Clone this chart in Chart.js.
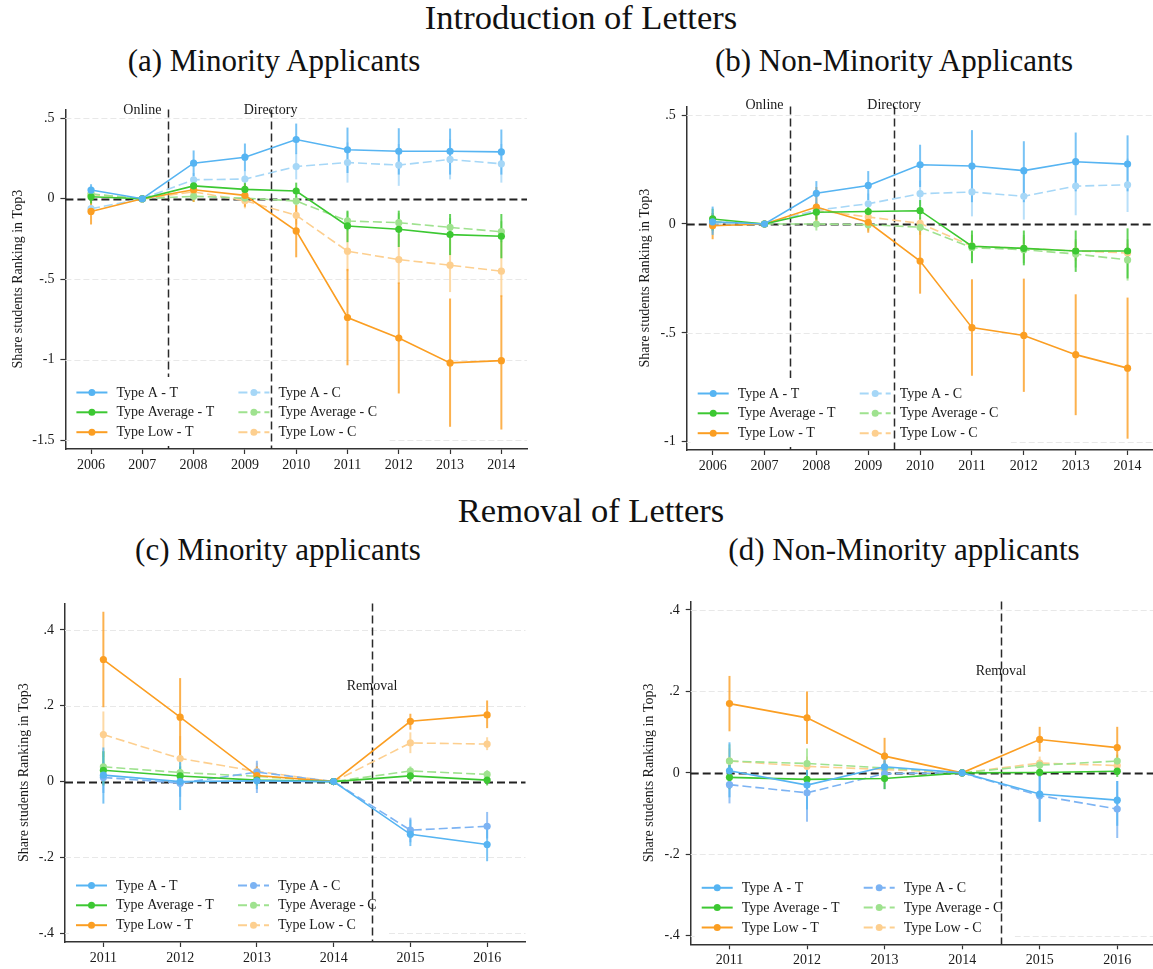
<!DOCTYPE html>
<html><head><meta charset="utf-8">
<script src="https://cdn.jsdelivr.net/npm/chart.js@4.4.0/dist/chart.umd.min.js"></script>
<style>
html,body{margin:0;padding:0;width:1153px;height:969px;overflow:hidden;background:#fff;}
.t{position:absolute;font-family:"Liberation Serif","Times New Roman",serif;color:#111;white-space:nowrap;line-height:1;transform:translateX(-50%);}
canvas{position:absolute;}
</style></head><body>
<div class="t" style="left:581px;top:0px;font-size:34.5px">Introduction of Letters</div>
<div class="t" style="left:274px;top:45px;font-size:31px">(a) Minority Applicants</div>
<div class="t" style="left:894px;top:45px;font-size:31px">(b) Non-Minority Applicants</div>
<div class="t" style="left:591px;top:493px;font-size:34.5px">Removal of Letters</div>
<div class="t" style="left:278px;top:534px;font-size:31px">(c) Minority applicants</div>
<div class="t" style="left:904px;top:534px;font-size:31px">(d) Non-Minority applicants</div>
<canvas id="ca" width="545" height="385" style="left:0px;top:95px"></canvas>
<canvas id="cb" width="560" height="388" style="left:600px;top:92px"></canvas>
<canvas id="cc" width="545" height="380" style="left:0px;top:589px"></canvas>
<canvas id="cd" width="560" height="382" style="left:600px;top:587px"></canvas>
<script>
// ---------- categories & tick labels ----------
const yearsIntro   = [2006, 2007, 2008, 2009, 2010, 2011, 2012, 2013, 2014];
const yearsRemoval = [2011, 2012, 2013, 2014, 2015, 2016];
const yTicksA = [0.5, 0, -0.5, -1, -1.5];
const yTicksB = [0.5, 0, -0.5, -1];
const yTicksCD = [0.4, 0.2, 0, -0.2, -0.4];
const seriesNames = ['Type A - T', 'Type Average - T', 'Type Low - T', 'Type A - C', 'Type Average - C', 'Type Low - C'];
const yTitle = 'Share students Ranking in Top3';

// ---------- panel (a) Minority, introduction ----------
const a_A_T   = [0.054, 0, 0.221, 0.258, 0.368, 0.304, 0.295, 0.295, 0.291];
const a_A_T_ci = [[0.02,0.09],[0,0],[0.14,0.30],[0.17,0.343],[0.277,0.467],[0.16,0.442],[0.15,0.438],[0.15,0.436],[0.15,0.43]];
const a_Av_T  = [0.012, 0, 0.08, 0.058, 0.048, -0.169, -0.19, -0.223, -0.233];
const a_Av_T_ci = [[-0.03,0.05],[0,0],[0.04,0.12],[0.02,0.1],[0.0,0.1],[-0.27,-0.074],[-0.3,-0.074],[-0.35,-0.095],[-0.37,-0.095]];
const a_Lo_T  = [-0.079, 0, 0.056, 0.021, -0.2, -0.738, -0.866, -1.02, -1.006];
const a_Lo_T_ci = [[-0.16,0.0],[0,0],[-0.02,0.13],[-0.05,0.09],[-0.364,-0.04],[-1.035,-0.436],[-1.21,-0.52],[-1.417,-0.62],[-1.434,-0.6]];
const a_A_C   = [-0.062, 0, 0.118, 0.122, 0.2, 0.225, 0.209, 0.244, 0.217];
const a_A_C_ci = [[-0.1,-0.02],[0,0],[0.07,0.16],[0.07,0.17],[0.12,0.28],[0.1,0.35],[0.08,0.34],[0.12,0.37],[0.1,0.34]];
const a_Av_C  = [0.03, 0, 0.015, 0.004, -0.014, -0.138, -0.149, -0.178, -0.205];
const a_Av_C_ci = [[0.0,0.06],[0,0],[-0.02,0.05],[-0.03,0.04],[-0.05,0.02],[-0.2,-0.08],[-0.21,-0.09],[-0.24,-0.12],[-0.27,-0.14]];
const a_Lo_C  = [0.027, 0, 0.043, -0.012, -0.103, -0.326, -0.378, -0.413, -0.45];
const a_Lo_C_ci = [[0.0,0.06],[0,0],[0.0,0.09],[-0.06,0.04],[-0.16,-0.05],[-0.45,-0.2],[-0.53,-0.22],[-0.58,-0.24],[-0.61,-0.26]];

// ---------- panel (b) Non-minority, introduction ----------
const b_A_T   = [0.01, 0, 0.141, 0.177, 0.272, 0.266, 0.245, 0.286, 0.275];
const b_A_T_ci = [[-0.05,0.08],[0,0],[0.08,0.197],[0.11,0.243],[0.17,0.364],[0.1,0.431],[0.1,0.38],[0.15,0.42],[0.15,0.407]];
const b_Av_T  = [0.023, 0, 0.054, 0.057, 0.061, -0.102, -0.112, -0.124, -0.124];
const b_Av_T_ci = [[-0.03,0.07],[0,0],[0.02,0.09],[0.02,0.1],[0.02,0.11],[-0.18,-0.03],[-0.19,-0.03],[-0.22,-0.03],[-0.25,-0.02]];
const b_Lo_T  = [-0.008, 0, 0.078, 0.008, -0.17, -0.476, -0.512, -0.6, -0.662];
const b_Lo_T_ci = [[-0.07,0.05],[0,0],[0.0,0.17],[-0.04,0.05],[-0.32,0.0],[-0.697,-0.254],[-0.771,-0.251],[-0.878,-0.323],[-0.986,-0.338]];
const b_A_C   = [0.0, 0, 0.063, 0.093, 0.139, 0.147, 0.127, 0.174, 0.18];
const b_A_C_ci = [[-0.04,0.04],[0,0],[0.02,0.1],[0.05,0.14],[0.08,0.2],[0.035,0.26],[0.02,0.24],[0.04,0.3],[0.055,0.3]];
const b_Av_C  = [0.01, 0, 0.0, -0.003, -0.015, -0.109, -0.118, -0.138, -0.165];
const b_Av_C_ci = [[-0.03,0.05],[0,0],[-0.03,0.03],[-0.03,0.02],[-0.05,0.02],[-0.17,-0.05],[-0.18,-0.05],[-0.2,-0.07],[-0.26,-0.07]];
const b_Lo_C  = [0.01, 0, 0.063, 0.032, 0.003, -0.102, -0.112, -0.124, -0.133];
const b_Lo_C_ci = [[-0.02,0.04],[0,0],[0.03,0.1],[0.0,0.06],[-0.03,0.03],[-0.15,-0.05],[-0.16,-0.06],[-0.17,-0.08],[-0.18,-0.09]];

// ---------- panel (c) Minority, removal ----------
const c_A_T   = [0.017, 0.0, 0.002, 0, -0.139, -0.166];
const c_A_T_ci = [[-0.058,0.09],[-0.075,0.07],[-0.02,0.03],[0,0],[-0.17,-0.1],[-0.21,-0.12]];
const c_Av_T  = [0.03, 0.015, 0.004, 0, 0.015, 0.004];
const c_Av_T_ci = [[-0.01,0.08],[-0.01,0.04],[-0.01,0.02],[0,0],[0.0,0.03],[-0.01,0.02]];
const c_Lo_T  = [0.322, 0.17, 0.016, 0, 0.159, 0.176];
const c_Lo_T_ci = [[0.196,0.448],[0.065,0.273],[-0.01,0.04],[0,0],[0.137,0.179],[0.141,0.214]];
const c_A_C   = [0.011, -0.004, 0.025, 0, -0.128, -0.118];
const c_A_C_ci = [[-0.03,0.05],[-0.04,0.03],[-0.03,0.055],[0,0],[-0.16,-0.095],[-0.15,-0.08]];
const c_Av_C  = [0.039, 0.024, 0.014, 0, 0.028, 0.019];
const c_Av_C_ci = [[0.0,0.08],[0.0,0.05],[0.0,0.03],[0,0],[0.015,0.04],[0.005,0.03]];
const c_Lo_C  = [0.124, 0.061, 0.027, 0, 0.102, 0.099];
const c_Lo_C_ci = [[0.065,0.185],[0.0,0.12],[0.0,0.05],[0,0],[0.075,0.13],[0.083,0.117]];

// ---------- panel (d) Non-minority, removal ----------
const d_A_T   = [0.005, -0.03, 0.015, 0, -0.052, -0.067];
const d_A_T_ci = [[-0.06,0.075],[-0.09,0.03],[-0.02,0.05],[0,0],[-0.12,0.0],[-0.13,-0.02]];
const d_Av_T  = [-0.011, -0.016, -0.014, 0, 0.001, 0.004];
const d_Av_T_ci = [[-0.04,0.02],[-0.04,0.01],[-0.04,0.01],[0,0],[-0.01,0.01],[-0.01,0.02]];
const d_Lo_T  = [0.17, 0.135, 0.041, 0, 0.082, 0.062];
const d_Lo_T_ci = [[0.102,0.238],[0.071,0.2],[0.0,0.086],[0,0],[0.052,0.113],[0.01,0.113]];
const d_A_C   = [-0.029, -0.049, -0.002, 0, -0.056, -0.089];
const d_A_C_ci = [[-0.075,0.02],[-0.12,0.02],[-0.04,0.03],[0,0],[-0.12,0.01],[-0.16,-0.02]];
const d_Av_C  = [0.029, 0.023, 0.012, 0, 0.019, 0.029];
const d_Av_C_ci = [[-0.01,0.07],[-0.01,0.06],[-0.01,0.03],[0,0],[0.005,0.03],[0.01,0.045]];
const d_Lo_C  = [0.029, 0.016, 0.008, 0, 0.024, 0.018];
const d_Lo_C_ci = [[0.0,0.06],[-0.01,0.04],[-0.01,0.025],[0,0],[0.01,0.04],[0.005,0.03]];

// ---------- styling ----------
const FONT = '"Liberation Serif","Times New Roman",serif';
const COL = {
  A_T: '#56b4f2', A_C_intro: '#a6d7f7', A_C_rem: '#7cb3f3',
  Av_T: '#3cc832', Av_C: '#9fe28f',
  Lo_T: '#fb9e22', Lo_C: '#fdcf8f'
};
function rgba(hex, a) {
  const n = parseInt(hex.slice(1), 16);
  return `rgba(${(n>>16)&255},${(n>>8)&255},${n&255},${a})`;
}
function fmtY(v) {
  if (Math.abs(v) < 1e-9) return '0';
  return String(+v.toFixed(2)).replace(/^(-?)0\./, '$1.');
}

const extras = {
  id: 'extras',
  beforeDatasetsDraw(chart, args, o) {
    const ctx = chart.ctx, ca = chart.chartArea, xs = chart.scales.x, ys = chart.scales.y;
    ctx.save();
    // light dashed grid
    ctx.strokeStyle = '#e8e8e8'; ctx.lineWidth = 1; ctx.setLineDash([6, 3]);
    o.yTicks.forEach(v => {
      if (v === 0) return;
      const py = Math.round(ys.getPixelForValue(v)) + 0.5;
      ctx.beginPath(); ctx.moveTo(ca.left, py); ctx.lineTo(ca.right, py); ctx.stroke();
    });
    const vline = v => {
      const px = Math.round(xs.getPixelForValue(v)) + 0.5;
      ctx.save(); ctx.strokeStyle = '#2a2a2a'; ctx.lineWidth = 1.5; ctx.setLineDash([8, 4]);
      ctx.beginPath(); ctx.moveTo(px, ca.top); ctx.lineTo(px, ca.bottom); ctx.stroke(); ctx.restore();
    };
    o.vlines.filter(l => l.under).forEach(l => vline(l.x));
    // legend box
    const L = ca.left, B = ca.bottom;
    ctx.setLineDash([]);
    ctx.fillStyle = '#fff';
    ctx.fillRect(L + 4, B - 72, 320, 69);
    const ds = chart.data.datasets;
    const rowsY = [B - 56.5, B - 36.7, B - 16.8];
    ds.forEach((d, i) => {
      const col = i < 3 ? 0 : 1, row = i % 3;
      const x0 = L + (col === 0 ? 11 : 173), y = rowsY[row];
      ctx.save();
      ctx.strokeStyle = d.borderColor; ctx.lineWidth = 2;
      ctx.setLineDash(d.borderDash || []);
      ctx.beginPath(); ctx.moveTo(x0, y); ctx.lineTo(x0 + 31, y); ctx.stroke();
      ctx.setLineDash([]);
      ctx.fillStyle = d.pointBackgroundColor;
      ctx.beginPath(); ctx.arc(x0 + 15.5, y, 3.5, 0, Math.PI * 2); ctx.fill();
      ctx.fillStyle = '#1a1a1a'; ctx.font = `14px ${FONT}`;
      ctx.textAlign = 'left'; ctx.textBaseline = 'middle';
      ctx.fillText(d.label, x0 + 40, y + 0.5);
      ctx.restore();
    });
    o.vlines.filter(l => !l.under).forEach(l => vline(l.x));
    // zero line
    const z = Math.round(ys.getPixelForValue(0)) + 0.5;
    ctx.strokeStyle = '#222'; ctx.lineWidth = 1.8; ctx.setLineDash([8, 4]);
    ctx.beginPath(); ctx.moveTo(ca.left, z); ctx.lineTo(ca.right, z); ctx.stroke();
    ctx.setLineDash([]);
    // notes
    ctx.fillStyle = '#1a1a1a'; ctx.font = `14px ${FONT}`; ctx.textAlign = 'center'; ctx.textBaseline = 'middle';
    o.notes.forEach(n => ctx.fillText(n.text, xs.getPixelForValue(n.x), ys.getPixelForValue(n.y)));
    // error bars (confidence intervals)
    for (let i = ds.length - 1; i >= 0; i--) {
      const d = ds[i];
      ctx.strokeStyle = rgba(d.borderColor, 0.8); ctx.lineWidth = 2;
      d.data.forEach((p, k) => {
        const ci = d.ci[k];
        if (!ci || ci[0] === ci[1]) return;
        const px = xs.getPixelForValue(p.x);
        ctx.beginPath(); ctx.moveTo(px, ys.getPixelForValue(ci[0])); ctx.lineTo(px, ys.getPixelForValue(ci[1])); ctx.stroke();
      });
    }
    ctx.restore();
  },
  afterDraw(chart, args, o) {
    const ctx = chart.ctx, ca = chart.chartArea;
    ctx.save();
    ctx.translate(ca.left + o.titleOffset, (ca.top + ca.bottom) / 2);
    ctx.rotate(-Math.PI / 2);
    ctx.fillStyle = '#1a1a1a'; ctx.font = `14px ${FONT}`; ctx.textAlign = 'center'; ctx.textBaseline = 'middle';
    ctx.fillText(yTitle, 0, 0);
    ctx.restore();
  }
};

function ds(label, years, values, ci, color, dashed) {
  return {
    label, ci,
    data: years.map((x, i) => ({ x, y: values[i] })),
    borderColor: color, backgroundColor: color,
    pointBackgroundColor: color, pointBorderWidth: 0, pointRadius: 3.6,
    borderWidth: 1.6, borderDash: dashed ? [9, 4] : [],
    tension: 0, fill: false
  };
}

function makePanel(id, g) {
  const axisFont = { family: FONT, size: 14 };
  new Chart(document.getElementById(id), {
    type: 'line',
    data: { datasets: g.datasets },
    options: {
      responsive: false, animation: false, devicePixelRatio: 1,
      layout: { padding: { left: 0, top: g.padTop, right: g.padRight, bottom: 0 } },
      plugins: {
        legend: { display: false }, tooltip: { enabled: false },
        extras: { yTicks: g.yTicks, vlines: g.vlines, notes: g.notes, titleOffset: g.titleOffset }
      },
      scales: {
        x: {
          type: 'linear', min: g.xMin, max: g.xMax,
          afterBuildTicks: s => { s.ticks = g.years.map(v => ({ value: v })); },
          afterFit: s => { s.height = g.xHeight; },
          ticks: { callback: v => String(v), font: axisFont, color: '#1a1a1a', padding: 3, maxRotation: 0, autoSkip: false },
          grid: { display: true, drawOnChartArea: false, drawTicks: true, tickLength: 5, tickColor: '#333', tickWidth: 1.2 },
          border: { display: true, color: '#333', width: 1.5 }
        },
        y: {
          type: 'linear', min: g.yMin, max: g.yMax,
          afterBuildTicks: s => { s.ticks = g.yTicks.map(v => ({ value: v })); },
          afterFit: s => { s.width = g.yWidth; },
          ticks: { callback: v => fmtY(v), font: axisFont, color: '#1a1a1a', padding: 6, autoSkip: false },
          grid: { display: true, drawOnChartArea: false, drawTicks: true, tickLength: 5, tickColor: '#333', tickWidth: 1.2 },
          border: { display: true, color: '#333', width: 1.5 }
        }
      }
    },
    plugins: [extras]
  });
}

const Y = yearsIntro, R = yearsRemoval;
makePanel('ca', {
  years: Y, xMin: 2005.5, xMax: 2014.5, yMin: -1.555, yMax: 0.555, yTicks: yTicksA,
  padTop: 14, padRight: 18, yWidth: 65.4, xHeight: 31, titleOffset: -47,
  vlines: [{ x: 2007.5, under: true }, { x: 2009.5, under: false }],
  notes: [{ text: 'Online', x: 2007, y: 0.549 }, { text: 'Directory', x: 2009.5, y: 0.549 }],
  datasets: [
    ds(seriesNames[0], Y, a_A_T, a_A_T_ci, COL.A_T, false),
    ds(seriesNames[1], Y, a_Av_T, a_Av_T_ci, COL.Av_T, false),
    ds(seriesNames[2], Y, a_Lo_T, a_Lo_T_ci, COL.Lo_T, false),
    ds(seriesNames[3], Y, a_A_C, a_A_C_ci, COL.A_C_intro, true),
    ds(seriesNames[4], Y, a_Av_C, a_Av_C_ci, COL.Av_C, true),
    ds(seriesNames[5], Y, a_Lo_C, a_Lo_C_ci, COL.Lo_C, true)
  ]
});
makePanel('cb', {
  years: Y, xMin: 2005.5, xMax: 2014.5, yMin: -1.038, yMax: 0.54, yTicks: yTicksB,
  padTop: 14, padRight: 6.5, yWidth: 86.7, xHeight: 30, titleOffset: -41,
  vlines: [{ x: 2007.5, under: true }, { x: 2009.5, under: false }],
  notes: [{ text: 'Online', x: 2007, y: 0.545 }, { text: 'Directory', x: 2009.5, y: 0.545 }],
  datasets: [
    ds(seriesNames[0], Y, b_A_T, b_A_T_ci, COL.A_T, false),
    ds(seriesNames[1], Y, b_Av_T, b_Av_T_ci, COL.Av_T, false),
    ds(seriesNames[2], Y, b_Lo_T, b_Lo_T_ci, COL.Lo_T, false),
    ds(seriesNames[3], Y, b_A_C, b_A_C_ci, COL.A_C_intro, true),
    ds(seriesNames[4], Y, b_Av_C, b_Av_C_ci, COL.Av_C, true),
    ds(seriesNames[5], Y, b_Lo_C, b_Lo_C_ci, COL.Lo_C, true)
  ]
});
makePanel('cc', {
  years: R, xMin: 2010.5, xMax: 2016.5, yMin: -0.423, yMax: 0.47, yTicks: yTicksCD,
  padTop: 13.7, padRight: 19.5, yWidth: 65, xHeight: 27, titleOffset: -41,
  vlines: [{ x: 2014.5, under: false }],
  notes: [{ text: 'Removal', x: 2014.5, y: 0.25 }],
  datasets: [
    ds(seriesNames[0], R, c_A_T, c_A_T_ci, COL.A_T, false),
    ds(seriesNames[1], R, c_Av_T, c_Av_T_ci, COL.Av_T, false),
    ds(seriesNames[2], R, c_Lo_T, c_Lo_T_ci, COL.Lo_T, false),
    ds(seriesNames[3], R, c_A_C, c_A_C_ci, COL.A_C_rem, true),
    ds(seriesNames[4], R, c_Av_C, c_Av_C_ci, COL.Av_C, true),
    ds(seriesNames[5], R, c_Lo_C, c_Lo_C_ci, COL.Lo_C, true)
  ]
});
makePanel('cd', {
  years: R, xMin: 2010.5, xMax: 2016.5, yMin: -0.421, yMax: 0.421, yTicks: yTicksCD,
  padTop: 13, padRight: 2, yWidth: 90.7, xHeight: 24.7, titleOffset: -41.7,
  vlines: [{ x: 2014.5, under: false }],
  notes: [{ text: 'Removal', x: 2014.5, y: 0.25 }],
  datasets: [
    ds(seriesNames[0], R, d_A_T, d_A_T_ci, COL.A_T, false),
    ds(seriesNames[1], R, d_Av_T, d_Av_T_ci, COL.Av_T, false),
    ds(seriesNames[2], R, d_Lo_T, d_Lo_T_ci, COL.Lo_T, false),
    ds(seriesNames[3], R, d_A_C, d_A_C_ci, COL.A_C_rem, true),
    ds(seriesNames[4], R, d_Av_C, d_Av_C_ci, COL.Av_C, true),
    ds(seriesNames[5], R, d_Lo_C, d_Lo_C_ci, COL.Lo_C, true)
  ]
});
</script>
</body></html>
